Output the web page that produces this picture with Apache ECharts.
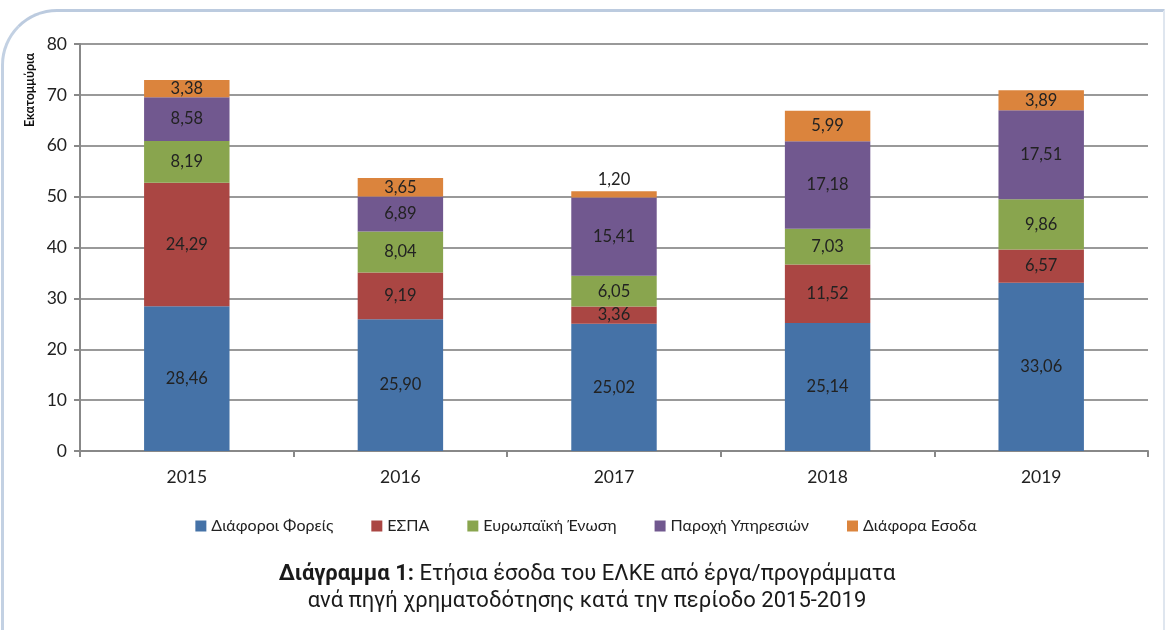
<!DOCTYPE html>
<html>
<head>
<meta charset="utf-8">
<script src="https://cdn.jsdelivr.net/npm/echarts@6/dist/echarts.min.js"></script>
<style>
  html, body { margin: 0; padding: 0; background: #fff; }
  #frame {
    position: absolute; left: 1px; top: 9px; width: 1164px; height: 640px;
    border-top: 3px solid #bccbdf; border-left: 3px solid #c3d1e3; border-right: 2px solid #dfe6ef;
    border-top-left-radius: 56px; box-sizing: border-box;
  }
  #main { position: absolute; left: 0; top: 0; width: 1172px; height: 630px; }
</style>
</head>
<body>
<div id="frame"></div>
<div id="main"></div>
<script>
// ετήσια έσοδα (εκατ. €)
const years = ['2015', '2016', '2017', '2018', '2019']
const seriesNames = ['Διάφοροι Φορείς', 'ΕΣΠΑ', 'Ευρωπαϊκή Ένωση', 'Παροχή Υπηρεσιών', 'Διάφορα Εσοδα']
const foreis = [28.46, 25.90, 25.02, 25.14, 33.06]
const espa = [24.29, 9.19, 3.36, 11.52, 6.57]
const eu = [8.19, 8.04, 6.05, 7.03, 9.86]
const paroxi = [8.58, 6.89, 15.41, 17.18, 17.51]
const diafora = [3.38, 3.65, 1.20, 5.99, 3.89]
const colors = ['#4572a7', '#aa4643', '#89a54e', '#71588f', '#db843d']

const chart = echarts.init(document.getElementById('main'))
const allData = [foreis, espa, eu, paroxi, diafora]

const series = seriesNames.map((name, i) => ({
  name: name,
  type: 'bar',
  stack: 'total',
  barWidth: '40%',
  itemStyle: { color: colors[i] },
  label: {
    show: true,
    position: 'inside',
    color: '#222',
    fontSize: 16.5,
    fontFamily: 'Lato',
    formatter: p => p.value.toFixed(2).replace('.', ',')
  },
  // πολύ μικρά τμήματα: ετικέτα πάνω από τη μπάρα
  data: allData[i].map(v => v < 2 ? { value: v, label: { position: 'top', offset: [0, 2] } } : v)
}))

chart.setOption({
  animation: false,
  textStyle: { fontFamily: 'Lato' },
  grid: { left: 80, right: 24, top: 44, bottom: 179 },
  legend: {
    data: seriesNames,
    top: 513,
    left: 'center',
    icon: 'rect',
    itemWidth: 11,
    itemHeight: 11,
    itemGap: 38,
    textStyle: { fontSize: 16, color: '#222', fontFamily: 'Lato' }
  },
  xAxis: {
    type: 'category',
    data: years,
    axisLine: { lineStyle: { color: '#888', width: 2 } },
    axisTick: { show: true, length: 6, lineStyle: { color: '#888', width: 2 } },
    axisLabel: { fontSize: 17.5, color: '#222', margin: 17 }
  },
  yAxis: {
    type: 'value',
    min: 0,
    max: 80,
    interval: 10,
    axisLine: { show: true, lineStyle: { color: '#888', width: 2 } },
    axisTick: { show: true, length: 6, lineStyle: { color: '#888', width: 2 } },
    axisLabel: { fontSize: 17.5, color: '#222', margin: 13 },
    splitLine: { lineStyle: { color: '#999', width: 2 } }
  },
  graphic: [
    {
      type: 'text',
      x: 30, y: 90,
      rotation: Math.PI / 2,
      style: {
        text: 'Εκατομμύρια',
        fontSize: 12.5,
        fontWeight: 'bold',
        fontFamily: 'Lato',
        fill: '#111',
        align: 'center',
        verticalAlign: 'middle'
      }
    },
    {
      type: 'text',
      x: 587, y: 574,
      style: {
        text: '{b|Διάγραμμα 1:} Ετήσια έσοδα του ΕΛΚΕ από έργα/προγράμματα',
        rich: { b: { fontWeight: 'bold', fontSize: 22, fill: '#1a1a1a', fontFamily: 'Roboto' } },
        fontSize: 22,
        fontFamily: 'Roboto',
        fill: '#1a1a1a',
        align: 'center',
        verticalAlign: 'middle'
      }
    },
    {
      type: 'text',
      x: 587, y: 601,
      style: {
        text: 'ανά πηγή χρηματοδότησης κατά την περίοδο 2015-2019',
        fontSize: 22,
        fontFamily: 'Roboto',
        fill: '#1a1a1a',
        align: 'center',
        verticalAlign: 'middle'
      }
    }
  ],
  series: series
})
</script>
</body>
</html>
